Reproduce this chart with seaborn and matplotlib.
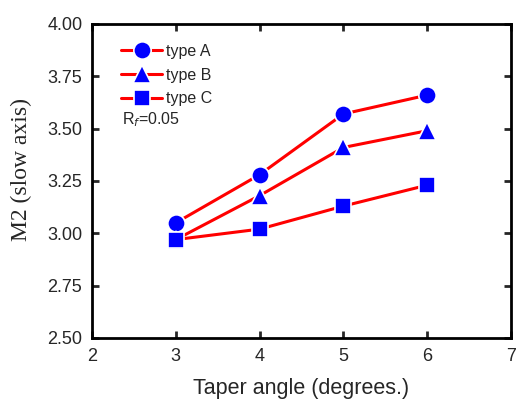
import matplotlib
matplotlib.use("Agg")
import matplotlib.pyplot as plt
import seaborn as sns
import pandas as pd

taper = [3, 4, 5, 6]
type_a = [3.05, 3.28, 3.57, 3.66]
type_b = [2.97, 3.18, 3.41, 3.49]
type_c = [2.97, 3.02, 3.13, 3.23]
series_names = ["type A", "type B", "type C"]
x_ticks = [2, 3, 4, 5, 6, 7]
y_ticks = [2.50, 2.75, 3.00, 3.25, 3.50, 3.75, 4.00]

df = pd.DataFrame({
    "x": taper * 3,
    "y": type_a + type_b + type_c,
    "type": [series_names[0]] * 4 + [series_names[1]] * 4 + [series_names[2]] * 4,
})

sns.set_style("ticks")
plt.rcParams["font.family"] = ["Liberation Sans", "DejaVu Sans"]

fig = plt.figure(figsize=(5.18, 3.99), dpi=100)
ax = fig.add_axes([0.1776, 0.1529, 0.8089, 0.7871])

sns.lineplot(data=df, x="x", y="y", hue="type", style="type",
             palette={n: "red" for n in series_names},
             markers={"type A": "o", "type B": "^", "type C": "s"},
             dashes=False, linewidth=2.2, markersize=12,
             markerfacecolor="blue", markeredgecolor="white", markeredgewidth=1.2,
             legend=False, ax=ax)

sizes = {0: 12.5, 1: 13, 2: 11}
for i, ln in enumerate(ax.lines[:3]):
    ln.set_markersize(sizes[i])

ax.set_xlim(2, 7)
ax.set_ylim(2.5, 4.0)
ax.set_xticks(x_ticks)
ax.set_yticks(y_ticks)
ax.set_yticklabels([f"{v:.2f}" for v in y_ticks])
ax.tick_params(direction="in", top=True, right=True, width=2, length=5,
               labelsize=13, pad=7, labeltop=False, labelright=False)
for s in ax.spines.values():
    s.set_linewidth(2)
    s.set_color("black")

ax.set_xlabel("Taper angle (degrees.)", fontsize=15.5)
ax.xaxis.set_label_coords(0.5, -0.127)
ax.set_ylabel("M2 (slow axis)", fontsize=17, family=["Liberation Serif", "DejaVu Serif"])
ax.yaxis.set_label_coords(-0.142, 0.535)

leg = ax.legend(handles=ax.lines[:3], labels=series_names, loc="upper left",
                bbox_to_anchor=(0.069, 0.937), frameon=False, fontsize=11.5,
                handlelength=2.6, handletextpad=0.25, labelspacing=0.55,
                borderaxespad=0, borderpad=0)
ax.text(0.0716, 0.682, "R$_f$=0.05", transform=ax.transAxes, fontsize=11.5,
        ha="left", va="baseline")

fig.savefig("out.png", dpi=100)
